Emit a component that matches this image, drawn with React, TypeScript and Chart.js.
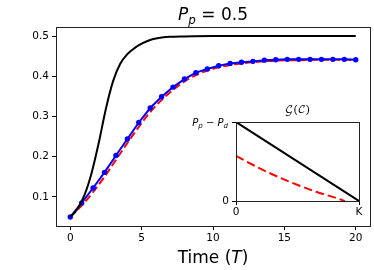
import React, { useEffect, useRef } from "react";
import { Chart, registerables } from "chart.js";
Chart.register(...registerables);

// ---- main chart data ----
const timeSteps = [0, 0.8, 1.6, 2.4, 3.2, 4.0, 4.8, 5.6, 6.4, 7.2, 8.0, 8.8, 9.6, 10.4, 11.2, 12.0, 12.8, 13.6, 14.4, 15.2, 16.0, 16.8, 17.6, 18.4, 19.2, 20.0];
const blueValues = [0.05, 0.085, 0.122, 0.161, 0.203, 0.244, 0.285, 0.321, 0.349, 0.373, 0.393, 0.409, 0.418, 0.426, 0.432, 0.435, 0.437, 0.44, 0.441, 0.442, 0.442, 0.442, 0.442, 0.442, 0.442, 0.441];
const redValues = [0.05, 0.078, 0.112, 0.15, 0.192, 0.234, 0.274, 0.311, 0.341, 0.366, 0.387, 0.403, 0.414, 0.422, 0.428, 0.432, 0.435, 0.437, 0.439, 0.44, 0.44, 0.441, 0.441, 0.441, 0.441, 0.441];
const blackTimes = [0, 0.5, 1, 1.5, 2, 2.5, 3, 3.5, 4, 4.5, 5, 5.5, 6, 7, 8, 10, 12, 15, 20];
const blackValues = [0.05, 0.07, 0.105, 0.16, 0.235, 0.32, 0.388, 0.431, 0.455, 0.47, 0.481, 0.489, 0.494, 0.498, 0.499, 0.5, 0.5, 0.5, 0.5];
const xTicks = [0, 5, 10, 15, 20];
const yTicks = [0.1, 0.2, 0.3, 0.4, 0.5];

// ---- inset data ----
const insetBlackX = [0, 1];
const insetBlackY = [1, 0];
const insetRedX = [0, 0.222, 0.437, 0.651, 0.84, 0.885];
const insetRedY = [0.571, 0.391, 0.243, 0.117, 0.025, 0];
const insetXTicks = [0, 1];
const insetXTickLabels = ["0", "K"];
const insetYTicks = [0, 1];

type Part = { t: string; it?: boolean; sub?: boolean };

function drawMath(ctx: CanvasRenderingContext2D, parts: Part[], x: number, y: number, size: number, align: "center" | "right" | "left") {
  const fontFor = (p: Part) => {
    const s = p.sub ? size * 0.7 : size;
    return `${p.it ? "oblique " : ""}${s}px "DejaVu Sans"`;
  };
  let total = 0;
  const widths = parts.map((p) => {
    ctx.font = fontFor(p);
    const w = ctx.measureText(p.t).width;
    total += w;
    return w;
  });
  let cx = align === "center" ? x - total / 2 : align === "right" ? x - total : x;
  ctx.save();
  ctx.fillStyle = "#000";
  ctx.textAlign = "left";
  ctx.textBaseline = "alphabetic";
  parts.forEach((p, i) => {
    ctx.font = fontFor(p);
    ctx.fillText(p.t, cx, p.sub ? y + size * 0.22 : y);
    cx += widths[i];
  });
  ctx.restore();
}

const tickFont = { family: "DejaVu Sans", size: 10.5 };

export default function App() {
  const mainRef = useRef<HTMLCanvasElement>(null);
  const insetRef = useRef<HTMLCanvasElement>(null);

  useEffect(() => {
    const frame = {
      id: "frame",
      afterDraw(chart: any) {
        const { ctx, chartArea: a } = chart;
        ctx.save();
        ctx.strokeStyle = "#222";
        ctx.lineWidth = 1;
        ctx.strokeRect(Math.round(a.left) + 0.5, Math.round(a.top) + 0.5, Math.round(a.right - a.left), Math.round(a.bottom - a.top));
        ctx.restore();
      },
    };
    const mainText = {
      id: "mainText",
      afterDraw(chart: any) {
        const { ctx, chartArea: a } = chart;
        const cx = (a.left + a.right) / 2;
        drawMath(ctx, [{ t: "P", it: true }, { t: "p", it: true, sub: true }, { t: " = 0.5" }], cx, 20, 17, "center");
        drawMath(ctx, [{ t: "Time (" }, { t: "T", it: true }, { t: ")" }], cx, 263, 17, "center");
      },
    };
    const main = new Chart(mainRef.current!, {
      type: "line",
      data: {
        datasets: [
          {
            data: blackTimes.map((t, i) => ({ x: t, y: blackValues[i] })),
            borderColor: "#000",
            borderWidth: 2,
            pointRadius: 0,
            cubicInterpolationMode: "monotone",
          },
          {
            data: timeSteps.map((t, i) => ({ x: t, y: blueValues[i] })),
            borderColor: "#0000ff",
            backgroundColor: "#0000ff",
            borderWidth: 2,
            pointRadius: 2.7,
            pointBorderWidth: 0,
          },
          {
            data: timeSteps.map((t, i) => ({ x: t, y: redValues[i] })),
            borderColor: "#ff0000",
            borderWidth: 2,
            borderDash: [7.5, 3.5],
            pointRadius: 0,
            cubicInterpolationMode: "monotone",
          },
        ],
      },
      options: {
        animation: false,
        responsive: false,
        layout: { padding: { top: 27, right: 4, left: 0, bottom: 0 } },
        plugins: { legend: { display: false }, title: { display: false }, tooltip: { enabled: false } },
        scales: {
          x: {
            type: "linear",
            min: -1,
            max: 21,
            afterBuildTicks: (s: any) => { s.ticks = xTicks.map((v) => ({ value: v })); },
            afterFit: (s: any) => { s.height = 44; },
            ticks: { font: tickFont, color: "#000", padding: 2, maxRotation: 0, callback: (v: any) => String(v) },
            grid: { drawOnChartArea: false, drawTicks: true, tickLength: 4, color: "#000" },
            border: { display: false },
          },
          y: {
            type: "linear",
            min: 0.0275,
            max: 0.5225,
            afterBuildTicks: (s: any) => { s.ticks = yTicks.map((v) => ({ value: v })); },
            afterFit: (s: any) => { s.width = 56; },
            ticks: { font: tickFont, color: "#000", padding: 3, callback: (v: any) => Number(v).toFixed(1) },
            grid: { drawOnChartArea: false, drawTicks: true, tickLength: 4, color: "#000" },
            border: { display: false },
          },
        },
      } as any,
      plugins: [frame, mainText],
    });

    const insetBg = {
      id: "insetBg",
      beforeDraw(chart: any) {
        const { ctx, chartArea: a } = chart;
        ctx.save();
        ctx.fillStyle = "#fff";
        ctx.fillRect(a.left, a.top, a.right - a.left, a.bottom - a.top);
        ctx.restore();
      },
    };
    const insetText = {
      id: "insetText",
      afterDraw(chart: any) {
        const { ctx, chartArea: a } = chart;
        drawMath(ctx, [{ t: "P", it: true }, { t: "p", it: true, sub: true }, { t: " − " }, { t: "P", it: true }, { t: "d", it: true, sub: true }], a.left - 8, a.top + 4, 10, "right");
        ctx.save();
        ctx.fillStyle = "#000";
        ctx.font = '11px "DejaVu Math TeX Gyre", "DejaVu Serif", serif';
        ctx.textAlign = "center";
        ctx.textBaseline = "alphabetic";
        ctx.fillText("\u{1D4A2}(\u{1D49E})", (a.left + a.right) / 2, a.top - 9);
        ctx.restore();
      },
    };
    const inset = new Chart(insetRef.current!, {
      type: "line",
      data: {
        datasets: [
          {
            data: insetBlackX.map((x, i) => ({ x, y: insetBlackY[i] })),
            borderColor: "#000",
            borderWidth: 2,
            pointRadius: 0,
          },
          {
            data: insetRedX.map((x, i) => ({ x, y: insetRedY[i] })),
            borderColor: "#ff0000",
            borderWidth: 2,
            borderDash: [8.5, 4],
            pointRadius: 0,
            cubicInterpolationMode: "monotone",
          },
        ],
      },
      options: {
        animation: false,
        responsive: false,
        layout: { padding: { top: 22, right: 5, left: 0, bottom: 0 } },
        plugins: { legend: { display: false }, title: { display: false }, tooltip: { enabled: false } },
        scales: {
          x: {
            type: "linear",
            min: 0,
            max: 1,
            afterBuildTicks: (s: any) => { s.ticks = insetXTicks.map((v) => ({ value: v })); },
            afterFit: (s: any) => { s.height = 17; },
            ticks: { font: tickFont, color: "#000", padding: 1, maxRotation: 0, callback: (v: any) => insetXTickLabels[insetXTicks.indexOf(Number(v))] ?? "" },
            grid: { drawOnChartArea: false, drawTicks: true, tickLength: 4, color: "#000" },
            border: { display: false },
          },
          y: {
            type: "linear",
            min: 0,
            max: 1,
            afterBuildTicks: (s: any) => { s.ticks = insetYTicks.map((v) => ({ value: v })); },
            afterFit: (s: any) => { s.width = 56; },
            ticks: { font: tickFont, color: "#000", padding: 3, callback: (v: any) => (Number(v) === 0 ? "0" : "") },
            grid: { drawOnChartArea: false, drawTicks: true, tickLength: 4, color: "#000" },
            border: { display: false },
          },
        },
      } as any,
      plugins: [insetBg, frame, insetText],
    });

    return () => {
      main.destroy();
      inset.destroy();
    };
  }, []);

  return (
    <div style={{ position: "absolute", left: 0, top: 0, width: 374, height: 270, background: "#fff" }}>
      <canvas ref={mainRef} width={374} height={270} style={{ position: "absolute", left: 0, top: 0 }} />
      <canvas ref={insetRef} width={184} height={118} style={{ position: "absolute", left: 180, top: 100 }} />
    </div>
  );
}
